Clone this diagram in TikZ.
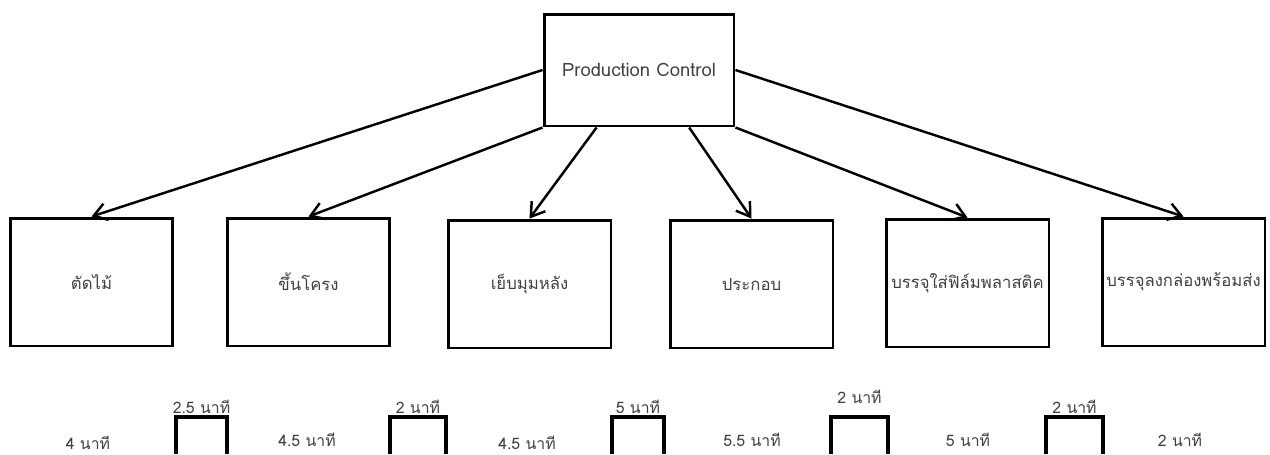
\documentclass[tikz,border=0pt]{standalone}
\usepackage{fontspec}
\setmainfont[Script=Thai]{Loma}
\usepackage{tikz}
\usetikzlibrary{arrows.meta,calc,positioning}

\tikzset{
  ctrlbox/.style={draw, line width=1.7pt, minimum width=3.8cm, minimum height=2.24cm, text=black!75, font=\fontsize{10.5}{12}\selectfont},
  procbox/.style={draw, line width=1.7pt, minimum width=3.26cm, minimum height=2.56cm, inner sep=1pt, text=black!75, font=\fontsize{9.5}{11}\selectfont},
  flow/.style={-{Straight Barb[length=2.6mm,width=3.4mm]}, line width=1.4pt},
  invbox/.style={line width=2.3pt},
  timelbl/.style={text=black!75, font=\small, inner sep=1pt}
}

\begin{document}
\begin{tikzpicture}[x=0.02cm, y=-0.02cm]
    \useasboundingbox (0,0) rectangle (1270,454);
    % control and processes
    \node[ctrlbox] (pc) at (639,70) {Production Control};
    \node[procbox] (cut) at (91.5,282) {ตัดไม้};
    \node[procbox] (frame) at (308.5,282) {ขึ้นโครง};
    \node[procbox] (sew) at (529.5,284) {เย็บมุมหลัง};
    \node[procbox] (asm) at (751.5,284) {ประกอบ};
    \node[procbox] (film) at (967.5,283) {บรรจุใส่ฟิล์มพลาสติค};
    \node[procbox] (pack) at (1183.5,282) {บรรจุลงกล่องพร้อมส่ง};
    % information flow
    \draw[flow] (pc.west) -- (cut.north);
    \draw[flow] (pc.south west) -- (frame.north);
    \draw[flow] ($(pc.south west)!0.28!(pc.south east)$) -- (sew.north);
    \draw[flow] ($(pc.south west)!0.76!(pc.south east)$) -- (asm.north);
    \draw[flow] (pc.south east) -- (film.north);
    \draw[flow] (pc.east) -- (pack.north);
    % inventory between the processes
    \foreach \xa/\xb/\lbl/\nm in {176/227/2.5 นาที/ia, 390/446/2 นาที/ib, 612/664/5 นาที/ic, 1046/1103/2 นาที/ie}{
        \draw[invbox] (\xa,454) -- (\xa,417) -- (\xb,417) -- (\xb,454);
        \node[timelbl, anchor=south] (\nm) at ({(\xa+\xb)/2},416) {\lbl};
    }
    \draw[invbox] (831,454) -- (831,417) -- (888,417) -- (888,454);
    \node[timelbl] (id) at (859.5,397) {2 นาที};
    % cycle times
    \node[timelbl] (t1) at (88,443) {4 นาที};
    \node[timelbl] (t2) at (307,440) {4.5 นาที};
    \node[timelbl] (t3) at (527,443) {4.5 นาที};
    \node[timelbl] (t4) at (752,440) {5.5 นาที};
    \node[timelbl] (t5) at (968,440) {5 นาที};
    \node[timelbl] (t6) at (1180,440) {2 นาที};
\end{tikzpicture}
\end{document}
